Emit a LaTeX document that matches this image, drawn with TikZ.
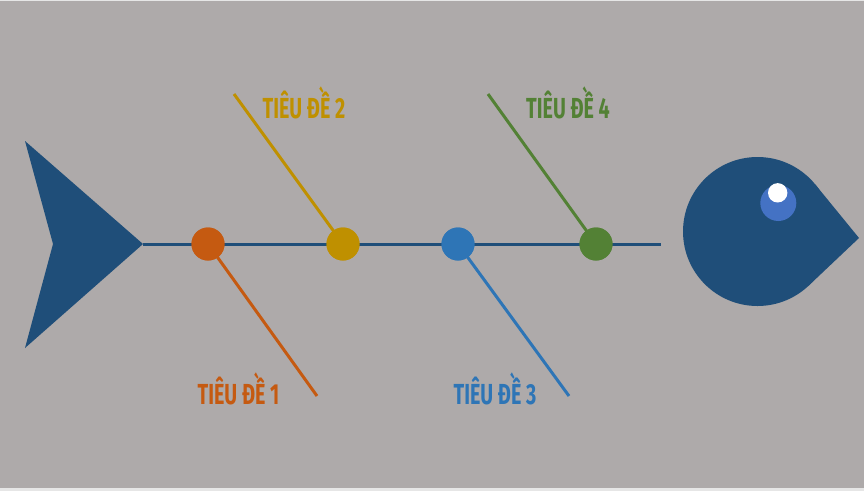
\documentclass[tikz,border=0pt]{standalone}
\usepackage{fontspec}
\newfontfamily\lblfont{Fira Sans}[FakeStretch=0.68]
\definecolor{bgA}{HTML}{AEAAAA}
\definecolor{bgEdge}{HTML}{E6E6E6}
\definecolor{fishBlue}{HTML}{1F4E79}
\definecolor{cOrange}{HTML}{C55A11}
\definecolor{cGold}{HTML}{BF9000}
\definecolor{cBlue}{HTML}{2E75B6}
\definecolor{cGreen}{HTML}{538135}
\definecolor{eyeBlue}{HTML}{4472C4}
\begin{document}
\begin{tikzpicture}[x=1pt,y=-1pt,
  dot/.style={circle,fill=#1,minimum size=33pt,inner sep=0pt},
  bone/.style={draw=#1,line width=3pt},
  lbl/.style={text=#1,font=\lblfont\bfseries\fontsize{29}{29}\selectfont,inner sep=0pt,anchor=base}]
\useasboundingbox (0,0) rectangle (864,491);
\fill[bgEdge] (0,0) rectangle (864,491);
\fill[bgA] (0,1) rectangle (864,488);
% tail
\fill[fishBlue] (25,141) -- (143,244) -- (25,348) -- (53,244) -- cycle;
% spine
\coordinate (tailtip) at (143,244);
\coordinate (spineend) at (661,244);
\draw[fishBlue,line width=3pt] (tailtip) -- (spineend);
% head
\fill[fishBlue] (757.5,231.5) circle[radius=74.5pt];
\fill[fishBlue] (757.5,231.5) -- (815.2,184.4) -- (859,238) -- (808.7,285.6) -- cycle;
\fill[eyeBlue] (778.3,203) circle[radius=18pt];
\fill[white] (777.7,192.8) circle[radius=9.7pt];
% bone ends
\coordinate (e1) at (317,396);
\coordinate (e2) at (234,94);
\coordinate (e3) at (569,396);
\coordinate (e4) at (488,94);
\node[dot=cOrange] (d1) at (208,244) {};
\node[dot=cGold] (d2) at (343,244) {};
\node[dot=cBlue] (d3) at (458,244) {};
\node[dot=cGreen] (d4) at (596,244) {};
\draw[bone=cOrange] (d1.center) -- (e1);
\draw[bone=cGold] (e2) -- (d2.center);
\draw[bone=cBlue] (d3.center) -- (e3);
\draw[bone=cGreen] (e4) -- (d4.center);
\node[dot=cOrange] at (d1) {};
\node[dot=cGold] at (d2) {};
\node[dot=cBlue] at (d3) {};
\node[dot=cGreen] at (d4) {};
% labels
\node[lbl=cOrange] (t1) at (238.5,404) {TIÊU ĐỀ 1};
\node[lbl=cGold] (t2) at (304,118) {TIÊU ĐỀ 2};
\node[lbl=cBlue] (t3) at (495,404) {TIÊU ĐỀ 3};
\node[lbl=cGreen] (t4) at (568,118) {TIÊU ĐỀ 4};
\end{tikzpicture}
\end{document}
